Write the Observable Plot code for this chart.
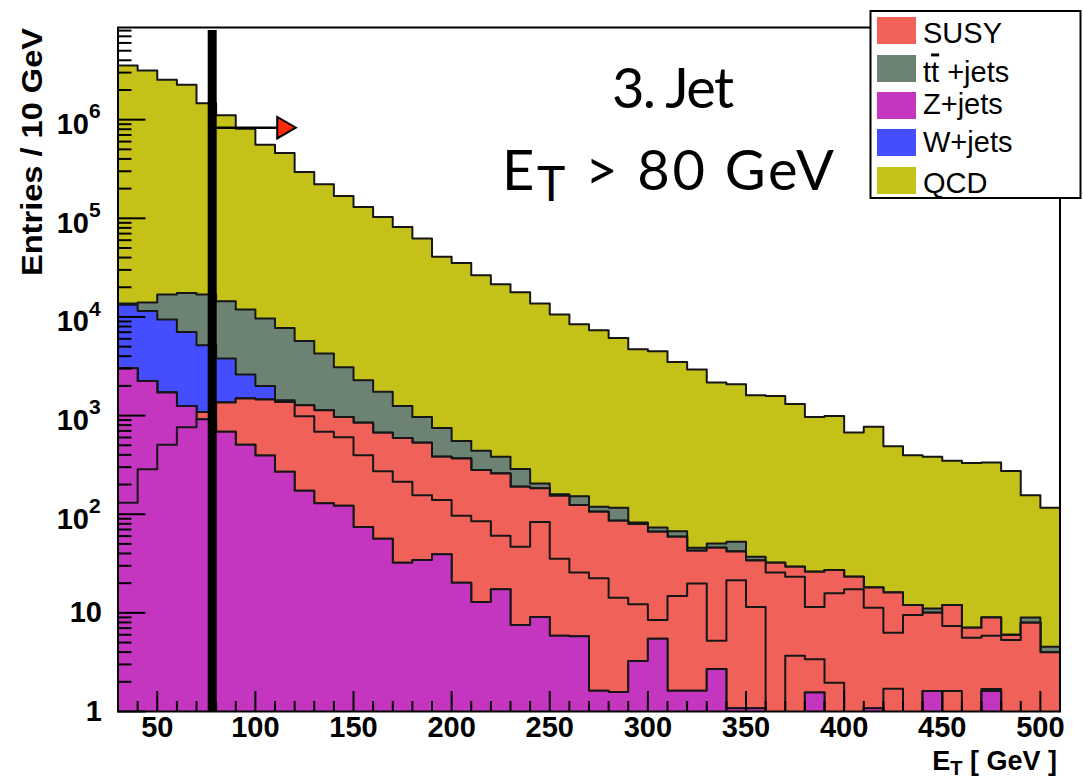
<!DOCTYPE html>
<html>
<head>
<meta charset="utf-8">
<script src="https://cdn.jsdelivr.net/npm/d3@7"></script>
<script src="https://cdn.jsdelivr.net/npm/@observablehq/plot@0.6"></script>
<style>
  body { margin: 0; background: #fff; }
  #wrap { position: relative; width: 1083px; height: 783px; overflow: hidden; background: #fff; }
  #wrap svg.plot { position: absolute; left: 0; top: 0; }
  #ann { position: absolute; left: 0; top: 0; pointer-events: none; }
</style>
</head>
<body>
<div id="wrap"></div>
<script>
// ---- bins (lower edges, GeV) ----
const binLow = [30,40,50,60,70,80,90,100,110,120,130,140,150,160,170,180,190,200,210,220,230,240,250,260,270,280,290,300,310,320,330,340,350,360,370,380,390,400,410,420,430,440,450,460,470,480,490,500];
const xMax = 510;

// ---- cumulative stack heights (entries / 10 GeV) ----
const qcdTotal = [3.55e6,3.16e6,2.54e6,2.26e6,1.47e6,1.11e6,8.1e5,5.58e5,4.59e5,2.94e5,2.21e5,1.68e5,1.30e5,1.03e5,8.17e4,6.23e4,4.07e4,3.52e4,2.65e4,2.14e4,1.78e4,1.37e4,1.06e4,8.43e3,7.33e3,6.12e3,4.71e3,4.50e3,3.50e3,2.93e3,2.16e3,2.08e3,1.61e3,1.58e3,1.31e3,970,993,674,769,490,397,382,348,330,335,275,156,116];
const ttbarTop = [1.37e4,1.40e4,1.69e4,1.75e4,1.69e4,1.44e4,1.19e4,9.64e3,7.74e3,5.71e3,4.26e3,3.09e3,2.28e3,1.74e3,1.25e3,970,750,554,439,382,288,205,159,152,119,116,82.6,73.5,67.4,45.7,50.6,52.5,37.0,32.2,29.3,26.1,27.2,23.2,18.1,16.1,12.0,11.1,12.0,7.06,9.0,6.05,9.0,4.53];
const wjetsTop = [1.33e4,1.15e4,9.42e3,7.05e3,5.17e3,3.79e3,2.61e3,1.99e3,1.43e3,1.27e3,1.13e3,970,848,668,594,531,382,368,280,259,190,183,154,124,106,85.7,79.4,66.3,59.0,42.6,45.7,42.0,33.9,32.2,29.3,26.1,27.2,23.2,18.1,16.1,12.0,10.0,12.0,7.06,9.0,5.96,7.94,3.98];
const susyTop = [3.02e3,2.24e3,1.71e3,1.25e3,1.09e3,1.36e3,1.49e3,1.46e3,1.37e3,1.27e3,1.13e3,970,848,668,594,531,382,368,280,259,190,183,154,124,106,85.7,79.4,66.3,59.0,42.6,45.7,42.0,33.9,32.2,29.3,26.1,27.2,23.2,18.1,16.1,12.0,10.0,12.0,7.06,9.0,5.96,7.94,3.98];
const susyMid = [3.02e3,2.24e3,1.71e3,1.25e3,1.09e3,1.36e3,1.49e3,1.46e3,1.37e3,1.27e3,1.13e3,970,848,668,594,531,382,368,280,259,190,183,154,124,106,85.7,79.4,66.3,59.0,42.6,45.7,42.0,33.9,25.7,23.2,11.5,15.8,17.4,11.3,6.29,9.5,10.0,7.35,5.6,5.86,5.30,7.94,3.98];
const susyLow = [3.02e3,2.24e3,1.71e3,1.25e3,920,1.36e3,1.49e3,1.46e3,1.37e3,986,684,604,397,273,213,156,139,96.4,85.1,60.4,46.7,83.2,35.3,25.7,22.4,14.2,12.2,8.45,14.8,19.9,5.21,21.4,11.5,0,3.68,3.38,1.96,0,1.08,1.70,0,1.61,1.61,0,1.69,0,0,0];
const zjetsTop = [3.02e3,2.24e3,1.71e3,1.25e3,920,684,507,394,269,173,129,122,74.0,56.3,32.2,34.3,39.4,20.2,12.9,17.4,7.52,9.07,5.86,5.78,1.62,1.58,3.25,5.47,1.62,1.62,2.70,1.08,1.08,0,0,1.56,0,0,1.08,0,0,1.61,0,0,1.61,0,0,0];
const zjetsLow = [131,285,507,763,920,684,507,394,269,173,129,122,74.0,56.3,32.2,34.3,39.4,20.2,12.9,17.4,7.52,9.07,5.86,5.78,1.62,1.58,3.25,5.47,1.62,1.62,2.70,1.08,1.08,0,0,1.56,0,0,1.08,0,0,1.61,0,0,1.61,0,0,0];

// ---- annotations ----
const cutET = 78;          // drawn cut line position (GeV)
const cutTop = 8.0e6;
const arrowLevel = 8.3e5;
const arrowTip = 114.3;

// ---- axis ticks ----
const yMajorTicks = [1, 10, 100, 1e3, 1e4, 1e5, 1e6];
const yMinorFactors = [2,3,4,5,6,7,8,9];
const yTop = 8.6e6;
const yMinorTicks = yMajorTicks.flatMap(d => yMinorFactors.map(k => k * d)).filter(v => v < yTop);
const xMajorTicks = [50,100,150,200,250,300,350,400,450,500];
const xMinorTicks = binLow.filter(v => v % 50 !== 0);

// ---- legend ----
const legendNames = ["SUSY", "ttbar", "Z+jets", "W+jets", "QCD"];
const colors = {QCD:"#c4c118", ttbar:"#6c8374", W:"#444eff", SUSY:"#f06159", Z:"#c536c0"};

const layers = [
  {values: qcdTotal, color: colors.QCD},
  {values: ttbarTop, color: colors.ttbar},
  {values: wjetsTop, color: colors.W},
  {values: susyTop,  color: colors.SUSY},
  {values: susyMid,  color: colors.SUSY},
  {values: susyLow,  color: colors.SUSY},
  {values: zjetsTop, color: colors.Z},
  {values: zjetsLow, color: colors.Z}
];

const W = 1083, H = 783;
const mL = 117.5, mR = 23.5, mT = 27, mB = 72;
const innerW = W - mL - mR, innerH = H - mT - mB;
const floorVal = 0.3;
const clampV = v => v > 0 ? v : floorVal;
const edgeStroke = "#161616";

const marks = [];
for (const L of layers) {
  const pts = binLow.map((x, i) => ({x, v: clampV(L.values[i])}));
  pts.push({x: xMax, v: clampV(L.values[L.values.length - 1])});
  marks.push(Plot.areaY(pts, {x: "x", y1: floorVal, y2: "v", curve: "step-after", fill: L.color, clip: true}));
  marks.push(Plot.line(pts, {x: "x", y: "v", curve: "step-after", stroke: edgeStroke, strokeWidth: 2, clip: true}));
}

// cut line and arrow
marks.push(Plot.ruleX([cutET], {x: d => d, y1: 1, y2: cutTop, stroke: "#000", strokeWidth: 9}));
marks.push(Plot.ruleY([arrowLevel], {y: d => d, x1: cutET, x2: arrowTip, stroke: "#000", strokeWidth: 2.5}));
marks.push(Plot.dot([{x: arrowTip, y: arrowLevel}], {x: "x", y: "y", symbol: "triangle", rotate: 90, r: 8, fill: "#ff2a0a", stroke: "#000", strokeWidth: 2}));

// ticks (inside the frame, ROOT style)
marks.push(Plot.ruleY(yMajorTicks, {y: d => d, insetRight: innerW - 28, stroke: "#000", strokeWidth: 2}));
marks.push(Plot.ruleY(yMinorTicks, {y: d => d, insetRight: innerW - 14, stroke: "#000", strokeWidth: 2}));
marks.push(Plot.ruleX(xMajorTicks, {x: d => d, insetTop: innerH - 20, stroke: "#000", strokeWidth: 2}));
marks.push(Plot.ruleX(xMinorTicks, {x: d => d, insetTop: innerH - 10, stroke: "#000", strokeWidth: 2}));
marks.push(Plot.frame({stroke: "#000", strokeWidth: 2}));

// tick labels
const tickFont = "'Liberation Sans', Arial, sans-serif";
marks.push(Plot.text(xMajorTicks, {x: d => d, frameAnchor: "bottom", dy: 25, text: d => String(d), fontFamily: tickFont, fontWeight: "bold", fontSize: 29, fill: "#000"}));
const yPlain = yMajorTicks.filter(v => v < 100);
const yPow = yMajorTicks.filter(v => v >= 100);
marks.push(Plot.text(yPlain, {y: d => d, frameAnchor: "left", dx: -16, textAnchor: "end", text: d => String(d), fontFamily: tickFont, fontWeight: "bold", fontSize: 29, fill: "#000"}));
marks.push(Plot.text(yPow, {y: d => d, frameAnchor: "left", dx: -29, dy: 5, textAnchor: "end", text: d => "10", fontFamily: tickFont, fontWeight: "bold", fontSize: 29, fill: "#000"}));
marks.push(Plot.text(yPow, {y: d => d, frameAnchor: "left", dx: -29, dy: -8, textAnchor: "start", text: d => String(Math.round(Math.log10(d))), fontFamily: tickFont, fontWeight: "bold", fontSize: 21, fill: "#000"}));

const chart = Plot.plot({
  width: W, height: H,
  marginLeft: mL, marginRight: mR, marginTop: mT, marginBottom: mB,
  x: {domain: [30, xMax], axis: null},
  y: {type: "log", domain: [1, yTop], axis: null},
  style: {background: "transparent", overflow: "visible"},
  marks
});
chart.classList.add("plot");
const wrap = document.getElementById("wrap");
wrap.appendChild(chart);

// ---- overlay: titles, annotation text, legend ----
const NS = "http://www.w3.org/2000/svg";
const ann = document.createElementNS(NS, "svg");
ann.setAttribute("id", "ann");
ann.setAttribute("width", W);
ann.setAttribute("height", H);
const legendY = [17, 55, 92, 129, 167];
const legendBase = [43, 81.5, 113.5, 151.5, 193];
const legendColors = [colors.SUSY, colors.ttbar, colors.Z, colors.W, colors.QCD];
let html = `
  <text x="612" y="108" font-family="Lato, 'Open Sans', sans-serif" font-size="56" fill="#000" textLength="122" lengthAdjust="spacing">3. Jet</text>
  <text x="502" y="190" font-family="Lato, 'Open Sans', sans-serif" font-size="56" fill="#000" textLength="332" lengthAdjust="spacing">E<tspan font-size="48" dy="11">T</tspan><tspan dy="-11"> &gt; 80 GeV</tspan></text>
  <text transform="translate(42,276) rotate(-90)" font-family="'Liberation Sans', Arial, sans-serif" font-weight="bold" font-size="30" textLength="248" lengthAdjust="spacingAndGlyphs" fill="#000">Entries / 10 GeV</text>
  <text x="1057" y="770" text-anchor="end" font-family="'Liberation Sans', Arial, sans-serif" font-weight="bold" font-size="27" fill="#000">E<tspan font-size="20" dy="5">T</tspan><tspan dy="-5"> [ GeV ]</tspan></text>
  <rect x="870.5" y="11" width="210" height="187" fill="#fff" stroke="#000" stroke-width="2"/>
`;
legendNames.forEach((name, i) => {
  html += `<rect x="877" y="${legendY[i]}" width="39" height="27" fill="${legendColors[i]}"/>`;
  const label = name === "ttbar"
    ? `t<tspan style="text-decoration: overline">t</tspan> +jets`
    : name;
  html += `<text x="923" y="${legendBase[i]}" font-family="'Liberation Sans', Arial, sans-serif" font-size="29" fill="#000">${label}</text>`;
});
ann.innerHTML = html;
wrap.appendChild(ann);
</script>
</body>
</html>
